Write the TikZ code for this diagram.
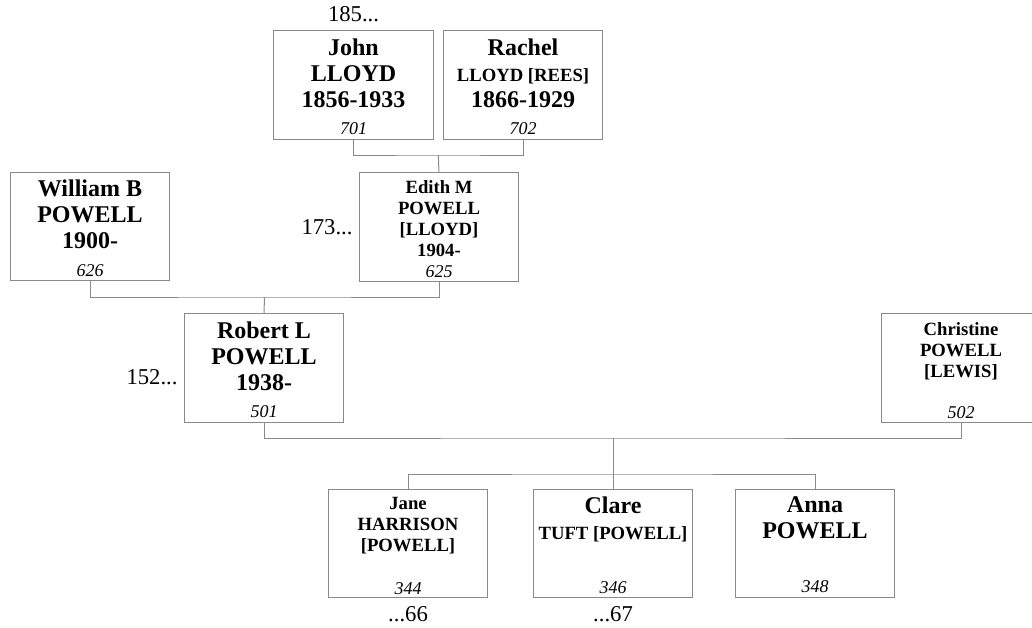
\documentclass[tikz,border=0pt]{standalone}
\usepackage{fontspec}
\setmainfont{Liberation Serif}
\usepackage{tikz}
\usetikzlibrary{positioning}
\definecolor{fmgray}{RGB}{138,138,138}

\begin{document}
\begin{tikzpicture}[
  x=0.75pt, y=-0.75pt,
  person/.style={draw=fmgray, rectangle, minimum width=119.5pt, minimum height=81.5pt, inner sep=0pt, line width=0.75pt},
  bigname/.style={font=\fontsize{18}{19.5}\selectfont\bfseries, align=center, inner sep=0pt},
  midname/.style={font=\fontsize{14}{15.75}\selectfont\bfseries, align=center, inner sep=0pt},
  refno/.style={font=\fontsize{13.5}{15}\selectfont\itshape, anchor=base, inner sep=0pt},
  gen/.style={font=\fontsize{17}{19}\selectfont, inner sep=0pt},
  link/.style={draw=fmgray, line width=0.75pt},
]
\useasboundingbox (0,0) rectangle (1032,628);
\clip (0,0) rectangle (1032,628);

% ============ John LLOYD ============
\node[person] (john) at (353.5,85) {};
\node[bigname, below=6pt of john.north] (johnT) {John\\LLOYD\\1856-1933};
\node[refno] (johnNo) at ([yshift=4pt]john.south) {701};
\node[gen, above=6pt of john.north] (johnGen) {185...};

% ============ Rachel LLOYD [REES] ============
\node[person] (rachel) at (523,85) {};
\node[bigname, below=6pt of rachel.north] (rachelT) {Rachel\\{\fontsize{14}{16}\selectfont LLOYD [REES]}\\1866-1929};
\node[refno] (rachelNo) at ([yshift=4pt]rachel.south) {702};

% ============ William B POWELL ============
\node[person] (william) at (90,226.5) {};
\node[bigname, below=6pt of william.north] (williamT) {William B\\POWELL\\1900-};
\node[refno] (williamNo) at ([yshift=4pt]william.south) {626};

% ============ Edith M POWELL [LLOYD] ============
\node[person] (edith) at (439,227) {};
\node[midname, below=6pt of edith.north] (edithT) {Edith M\\POWELL\\{[LLOYD]}\\1904-};
\node[refno] (edithNo) at ([yshift=3pt]edith.south) {625};
\node[gen, left=4.5pt of edith] (edithGen) {173...};

% ============ Robert L POWELL ============
\node[person] (robert) at (264,368) {};
\node[bigname, below=6pt of robert.north] (robertT) {Robert L\\POWELL\\1938-};
\node[refno] (robertNo) at ([yshift=4pt]robert.south) {501};
\node[gen, left=4.5pt of robert, yshift=-6.5pt] (robertGen) {152...};

% ============ Christine POWELL [LEWIS] ============
\node[person] (christine) at (961,368) {};
\node[midname, below=6.5pt of christine.north] (christineT) {Christine\\POWELL\\{[LEWIS]}};
\node[refno] (christineNo) at ([yshift=3pt]christine.south) {502};

% ============ Jane HARRISON [POWELL] ============
\node[person] (jane) at (408,543.5) {};
\node[midname, below=6pt of jane.north] (janeT) {Jane\\HARRISON\\{[POWELL]}};
\node[refno] (janeNo) at ([yshift=3pt]jane.south) {344};
\node[gen, below=6pt of jane] (janeGen) {...66};

% ============ Clare TUFT [POWELL] ============
\node[person] (clare) at (613,543.5) {};
\node[bigname, below=6pt of clare.north] (clareT) {Clare\\{\fontsize{14}{16}\selectfont TUFT [POWELL]}};
\node[refno] (clareNo) at ([yshift=4pt]clare.south) {346};
\node[gen, below=6pt of clare] (clareGen) {...67};

% ============ Anna POWELL ============
\node[person] (anna) at (815,543.5) {};
\node[bigname, below=6pt of anna.north] (annaT) {Anna\\POWELL};
\node[refno] (annaNo) at ([yshift=4.5pt]anna.south) {348};

% ===================== LINKS =====================

% John + Rachel -> Edith
\coordinate (lloydJoin) at (438.25,155);
\draw[link] (john.south) |- (lloydJoin) -| (rachel.south);
\draw[link] (lloydJoin) -- (edith.north);

% William + Edith -> Robert
\coordinate (powellJoin) at (264.5,297);
\draw[link] (william.south) |- (powellJoin) -| (edith.south);
\draw[link] (powellJoin) -- (robert.north);

% Robert + Christine -> children
\coordinate (familyJoin) at (613,438);
\coordinate (kidsBar) at (613,474);
\draw[link] (robert.south) |- (familyJoin) -| (christine.south);
\draw[link] (familyJoin) -- (kidsBar);
\draw[link] (jane.north) |- (kidsBar) -| (anna.north);
\draw[link] (kidsBar) -- (clare.north);

\end{tikzpicture}
\end{document}
